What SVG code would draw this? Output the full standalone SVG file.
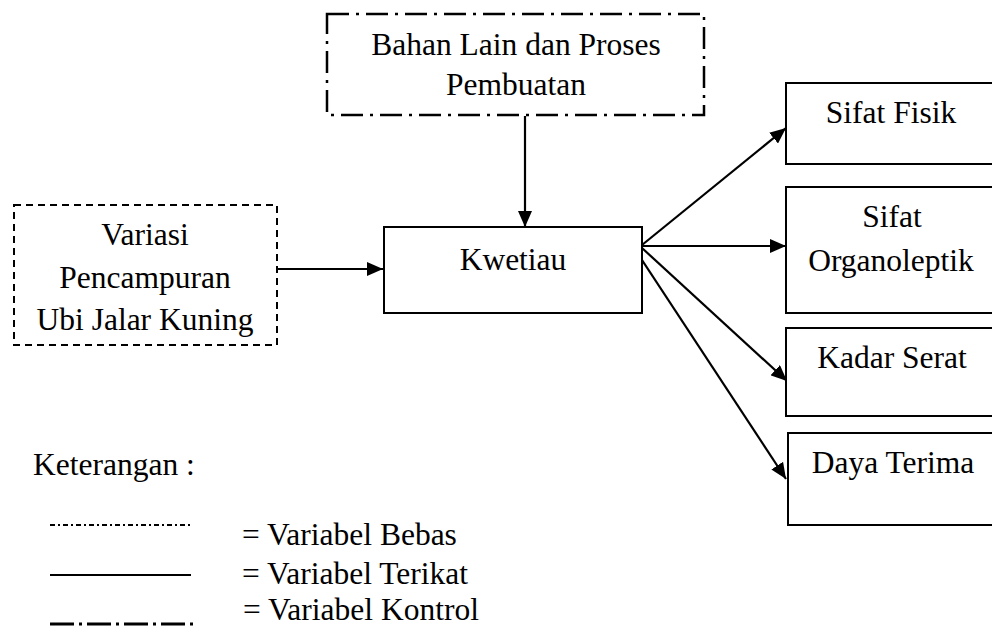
<svg xmlns="http://www.w3.org/2000/svg" width="992" height="627" viewBox="0 0 992 627">
<style>
text{font-family:'Liberation Serif','Times New Roman',serif;font-size:31.5px;fill:#000}
.c{text-anchor:middle}
.box{fill:#fff;stroke:#000;stroke-width:2}
.conn{stroke:#000;stroke-width:2.2;fill:none}
</style>
<defs>
<marker id="ah" markerUnits="userSpaceOnUse" markerWidth="17" markerHeight="14" refX="16" refY="7" orient="auto">
<path d="M0,0 L16,7 L0,14 z" fill="#000"/>
</marker>
</defs>
<rect width="992" height="627" fill="#fff"/>
<g id="connectors">
<line class="conn" x1="525" y1="116" x2="525" y2="227" marker-end="url(#ah)"/>
<line class="conn" x1="278" y1="269" x2="383" y2="269" marker-end="url(#ah)"/>
<line class="conn" x1="642" y1="245" x2="786" y2="128" marker-end="url(#ah)"/>
<line class="conn" x1="642" y1="246" x2="786" y2="246" marker-end="url(#ah)"/>
<line class="conn" x1="642" y1="248" x2="787" y2="381" marker-end="url(#ah)"/>
<line class="conn" x1="638" y1="254" x2="786" y2="479" marker-end="url(#ah)"/>
</g>
<g id="node-bahan">
<rect x="327" y="14" width="377" height="101" fill="#fff" stroke="#000" stroke-width="2.5" stroke-dasharray="22 7 3 7"/>
<text class="c" x="516" y="55">Bahan Lain dan Proses</text>
<text class="c" x="516" y="95">Pembuatan</text>
</g>
<g id="node-variasi">
<rect x="14" y="205" width="263" height="140" fill="#fff" stroke="#000" stroke-width="2" stroke-dasharray="7 5"/>
<text class="c" x="145" y="245">Variasi</text>
<text class="c" x="145" y="288">Pencampuran</text>
<text class="c" x="145" y="330">Ubi Jalar Kuning</text>
</g>
<g id="node-kwetiau">
<rect class="box" x="384" y="227" width="258" height="86"/>
<text class="c" x="513" y="270">Kwetiau</text>
</g>
<g id="node-fisik">
<rect class="box" x="786" y="83" width="212" height="81"/>
<text class="c" x="891" y="123">Sifat Fisik</text>
</g>
<g id="node-organoleptik">
<rect class="box" x="786" y="187" width="212" height="126"/>
<text class="c" x="892" y="227">Sifat</text>
<text class="c" x="891" y="271">Organoleptik</text>
</g>
<g id="node-serat">
<rect class="box" x="786" y="328" width="212" height="88"/>
<text class="c" x="892" y="368">Kadar Serat</text>
</g>
<g id="node-daya">
<rect class="box" x="788" y="433" width="212" height="92"/>
<text class="c" x="893" y="473">Daya Terima</text>
</g>
<g id="legend">
<text x="33" y="475">Keterangan :</text>
<line x1="50" y1="525" x2="190" y2="525" stroke="#000" stroke-width="2" stroke-dasharray="5 3 2 3"/>
<line x1="50" y1="575" x2="191" y2="575" stroke="#000" stroke-width="2"/>
<line x1="50" y1="624" x2="193" y2="624" stroke="#000" stroke-width="3" stroke-dasharray="24 5 3 5"/>
<text x="242" y="545">= Variabel Bebas</text>
<text x="242" y="584">= Variabel Terikat</text>
<text x="243" y="620">= Variabel Kontrol</text>
</g>
</svg>
